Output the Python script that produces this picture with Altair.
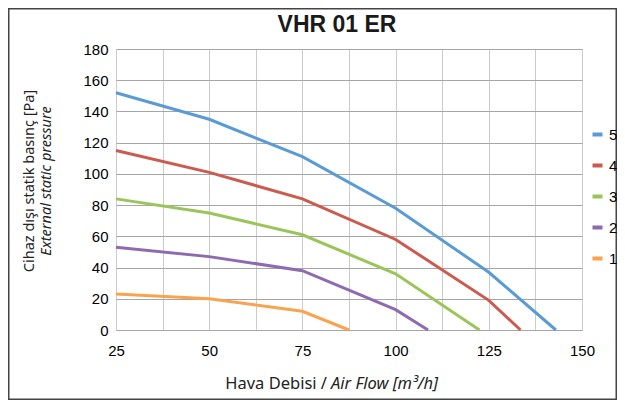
import altair as alt
import pandas as pd

series_names = ["5", "4", "3", "2", "1"]
colors = ["#5b9bd5", "#cc5a4e", "#9bc55a", "#8e6bb0", "#f9a34f"]

flow_5 = [25, 50, 75, 100, 125, 143]
pres_5 = [152, 135, 111, 78, 37, 0]
flow_4 = [25, 50, 75, 100, 125, 133.5]
pres_4 = [115, 101, 84, 58, 19, 0]
flow_3 = [25, 50, 75, 100, 122.5]
pres_3 = [84, 75, 61, 36, 0]
flow_2 = [25, 50, 75, 100, 108.7]
pres_2 = [53, 47, 38, 13, 0]
flow_1 = [25, 50, 75, 87.5]
pres_1 = [23, 20, 12, 0]

x_grid = [25, 37.5, 50, 62.5, 75, 87.5, 100, 112.5, 125, 137.5, 150]
y_ticks = [0, 20, 40, 60, 80, 100, 120, 140, 160, 180]

rows = []
for name, xs, ys in [("5", flow_5, pres_5), ("4", flow_4, pres_4), ("3", flow_3, pres_3),
                     ("2", flow_2, pres_2), ("1", flow_1, pres_1)]:
    for i, (a, b) in enumerate(zip(xs, ys)):
        rows.append({"series": name, "flow": a, "pressure": b, "order": i})
df = pd.DataFrame(rows)

W, H = 466, 281
FONT = "Liberation Sans"
TFONT = "Noto Sans"

lines = alt.Chart(df).mark_line(strokeWidth=3, clip=False).encode(
    x=alt.X("flow:Q", scale=alt.Scale(domain=[25, 150], nice=False, zero=False),
            axis=alt.Axis(values=x_grid, title=None, domain=False, ticks=False,
                          labelExpr="datum.value % 25 == 0 ? datum.label : ''",
                          labelFlush=False, labelOverlap=False,
                          labelFont=FONT, labelFontSize=15, labelColor="#000",
                          labelPadding=13, gridColor="#cccccc", gridWidth=1)),
    y=alt.Y("pressure:Q", scale=alt.Scale(domain=[0, 180], nice=False),
            axis=alt.Axis(values=y_ticks, title=None, domain=False, ticks=False,
                          labelFlush=False,
                          labelFont=FONT, labelFontSize=15, labelColor="#000",
                          labelPadding=8, gridColor="#a6a6a6", gridWidth=1.2)),
    color=alt.Color("series:N", scale=alt.Scale(domain=series_names, range=colors),
                    legend=alt.Legend(title=None, orient="none", legendX=474, legendY=78,
                                      symbolType="stroke", symbolStrokeWidth=4,
                                      symbolSize=100, labelFont=FONT, labelFontSize=15,
                                      labelColor="#000", rowPadding=14, labelOffset=4)),
    order="order:Q",
)

title = alt.Chart(pd.DataFrame({"t": ["VHR 01 ER"]})).mark_text(
    font=FONT, fontSize=23, fontWeight="bold", color="#1a1a1a", baseline="alphabetic"
).encode(text="t:N", x=alt.value(221), y=alt.value(-17))

ytitle1 = alt.Chart(pd.DataFrame({"t": ["Cihaz dışı statik basınç [Pa]"]})).mark_text(
    font=TFONT, fontSize=14.5, angle=270, baseline="middle", align="center", color="#222"
).encode(text="t:N", x=alt.value(-86), y=alt.value(132))
ytitle2 = alt.Chart(pd.DataFrame({"t": ["External static pressure"]})).mark_text(
    font=TFONT, fontSize=14.5, fontStyle="italic", angle=270, baseline="middle",
    align="center", color="#222"
).encode(text="t:N", x=alt.value(-69), y=alt.value(132))

xtitle1 = alt.Chart(pd.DataFrame({"t": ["Hava Debisi /"]})).mark_text(
    font=TFONT, fontSize=16.5, baseline="alphabetic", align="right", color="#222"
).encode(text="t:N", x=alt.value(211), y=alt.value(340))
xtitle2 = alt.Chart(pd.DataFrame({"t": ["Air Flow [m³/h]"]})).mark_text(
    font=TFONT, fontSize=16.5, fontStyle="italic", baseline="alphabetic", align="left", color="#222"
).encode(text="t:N", x=alt.value(215), y=alt.value(340))

border = alt.Chart(pd.DataFrame({"a": [0]})).mark_rect(
    fill=None, stroke="#444444", strokeWidth=1.5
).encode(x=alt.value(-107.25), x2=alt.value(500.25), y=alt.value(-40.25), y2=alt.value(350.25))

chart = alt.layer(lines, title, ytitle1, ytitle2, xtitle1, xtitle2, border).properties(
    width=W, height=H,
    autosize=alt.AutoSizeParams(type="none"),
    padding={"left": 108, "top": 41, "right": 35, "bottom": 70},
).configure_view(stroke="#8c8c8c", strokeWidth=1.5).configure(background="white")

chart.save("out.html", embed_options={"renderer": "svg", "actions": False})
